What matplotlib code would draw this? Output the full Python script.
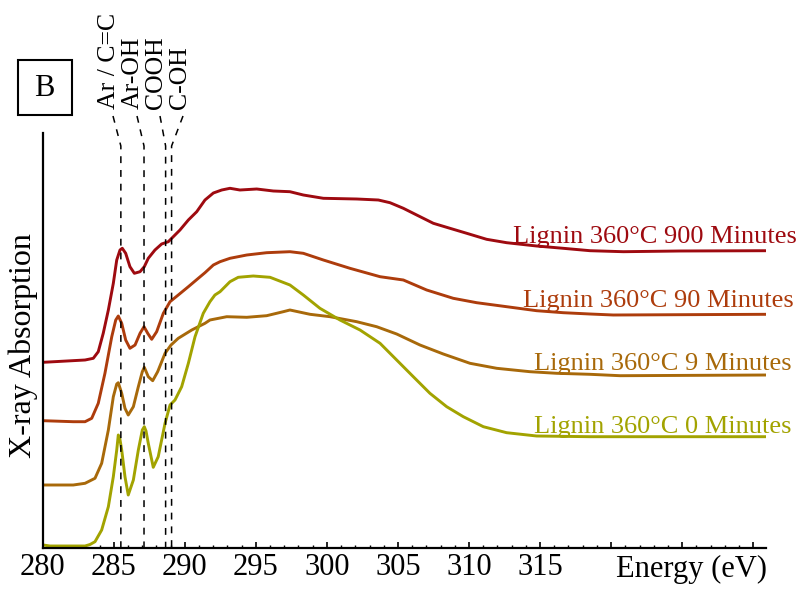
import matplotlib
matplotlib.use("Agg")
import matplotlib.pyplot as plt
from matplotlib.patches import Rectangle

plt.rcParams['font.family'] = ['Liberation Serif', 'DejaVu Serif']

# ---------------- data (energy in eV, absorption in a.u., offset-stacked) -------------
e_900 = [280.04, 282.98, 283.56, 283.91, 284.26, 284.62, 284.97, 285.21, 285.44, 285.60,
         285.84, 286.14, 286.45, 286.85, 287.15, 287.43, 287.90, 288.37, 288.84, 289.19,
         289.66, 290.25, 290.84, 291.42, 292.01, 292.60, 293.18, 293.88, 295.06, 296.23,
         297.40, 298.34, 299.75, 302.10, 303.62, 304.44, 305.38, 306.32, 307.49, 308.66,
         309.84, 311.24, 312.65, 314.76, 316.63, 318.51, 320.86, 324.85, 331.06]
a_900 = [1.857, 1.88, 1.897, 1.963, 2.147, 2.38, 2.647, 2.88, 2.98, 2.997,
         2.947, 2.813, 2.747, 2.763, 2.813, 2.897, 2.98, 3.04, 3.063, 3.113,
         3.18, 3.28, 3.363, 3.48, 3.55, 3.58, 3.597, 3.58, 3.59, 3.57,
         3.563, 3.53, 3.497, 3.49, 3.48, 3.453, 3.397, 3.33, 3.247, 3.197,
         3.147, 3.087, 3.053, 3.02, 2.997, 2.973, 2.963, 2.97, 2.973]

e_90 = [280.04, 282.15, 282.98, 283.45, 283.91, 284.38, 284.86, 285.14, 285.32, 285.56,
        285.84, 286.14, 286.50, 286.85, 287.13, 287.39, 287.67, 288.02, 288.49, 288.96,
        289.54, 290.25, 290.95, 291.42, 292.01, 292.48, 293.18, 294.36, 295.76, 297.40,
        298.34, 299.75, 301.62, 303.74, 305.38, 307.02, 308.89, 310.54, 312.65, 314.76,
        316.63, 318.51, 320.15, 331.06]
a_90 = [1.273, 1.263, 1.263, 1.297, 1.447, 1.747, 2.113, 2.28, 2.32, 2.247,
        2.08, 1.997, 2.03, 2.147, 2.213, 2.147, 2.087, 2.163, 2.347, 2.463,
        2.53, 2.613, 2.697, 2.753, 2.83, 2.863, 2.897, 2.93, 2.953, 2.963,
        2.947, 2.88, 2.797, 2.713, 2.68, 2.58, 2.497, 2.453, 2.413, 2.373,
        2.353, 2.34, 2.33, 2.337]

e_9 = [280.04, 282.15, 282.98, 283.68, 284.15, 284.62, 284.97, 285.21, 285.32, 285.56,
       285.79, 286.02, 286.38, 286.73, 287.01, 287.15, 287.43, 287.74, 288.09, 288.61,
       289.03, 289.54, 290.49, 291.42, 291.77, 292.95, 294.36, 295.76, 296.93, 297.40,
       298.81, 300.22, 302.10, 303.50, 304.91, 306.55, 308.19, 310.07, 311.95, 314.29,
       316.17, 318.51, 320.63, 331.06]
a_9 = [0.63, 0.63, 0.647, 0.697, 0.847, 1.18, 1.513, 1.64, 1.653, 1.547,
       1.397, 1.33, 1.413, 1.613, 1.763, 1.807, 1.713, 1.673, 1.763, 1.947,
       2.03, 2.097, 2.18, 2.247, 2.28, 2.313, 2.307, 2.323, 2.363, 2.38,
       2.337, 2.313, 2.263, 2.213, 2.14, 2.03, 1.94, 1.847, 1.797, 1.763,
       1.747, 1.737, 1.723, 1.73]

e_0 = [280.04, 280.51, 282.98, 283.33, 283.68, 284.15, 284.62, 284.97, 285.21, 285.32,
       285.42, 285.56, 285.79, 286.02, 286.38, 286.73, 287.01, 287.15, 287.27, 287.43,
       287.78, 288.13, 288.61, 288.96, 289.31, 289.78, 290.25, 290.72, 291.30, 291.77,
       292.12, 292.48, 293.18, 293.76, 294.82, 296.00, 297.40, 298.34, 299.51, 300.92,
       302.33, 303.74, 304.91, 306.08, 307.25, 308.43, 309.60, 311.01, 312.65, 314.76,
       318.51, 321.56, 331.06]
a_0 = [0.03, 0.02, 0.02, 0.035, 0.063, 0.18, 0.413, 0.713, 0.98, 1.13,
       1.10, 0.98, 0.713, 0.53, 0.68, 0.98, 1.18, 1.213, 1.17, 1.047,
       0.807, 0.913, 1.247, 1.43, 1.48, 1.613, 1.847, 2.113, 2.347, 2.463,
       2.53, 2.563, 2.663, 2.707, 2.72, 2.707, 2.63, 2.53, 2.397, 2.28,
       2.18, 2.047, 1.88, 1.713, 1.547, 1.413, 1.313, 1.213, 1.153, 1.12,
       1.113, 1.113, 1.113]

series_labels = ["Lignin 360°C 900 Minutes", "Lignin 360°C 90 Minutes",
                 "Lignin 360°C 9 Minutes", "Lignin 360°C 0 Minutes"]

peak_names = ["Ar / C=C", "Ar-OH", "COOH", "C-OH"]
peak_energies = [285.5, 287.13, 288.65, 289.07]

x_major = [280, 285, 290, 295, 300, 305, 310, 315, 320, 325, 330]
x_labels = ["280", "285", "290", "295", "300", "305", "310", "315", "", "", ""]

# ---------------- styling ----------------
colors = ["#9E0A10", "#AD3C0C", "#A8690A", "#A2A300"]
label_x_px = [797, 794, 792, 792]
label_base_px = [243.5, 307, 370, 432.5]
peak_label_px = [109, 133, 156.5, 180]
peak_top_px = [113, 137, 160, 183]

W, H = 804, 593
fig = plt.figure(figsize=(W / 100, H / 100), dpi=100)
ax = fig.add_axes([42.7 / W, 1 - 548 / H, (765.7 - 42.7) / W, (548 - 133) / H])

xmin, xmax = 280, 330.88
ymin, ymax = 0, 4.15
ax.set_xlim(xmin, xmax)
ax.set_ylim(ymin, ymax)

def px2e(px):
    return xmin + (px - 42.7) / (765.7 - 42.7) * (xmax - xmin)

def py2a(py):
    return (548 - py) / (548 - 133) * (ymax - ymin)

for e, a, c in zip([e_900, e_90, e_9, e_0], [a_900, a_90, a_9, a_0], colors):
    ax.plot(e, a, color=c, lw=2.1, solid_joinstyle='round', solid_capstyle='round')

# peak guide lines
for pe, lab_px, top_px, name in zip(peak_energies, peak_label_px, peak_top_px, peak_names):
    ax.plot([px2e(top_px), pe, pe], [py2a(116), py2a(146), 0], color='black', lw=1.1,
            linestyle=(0, (4.5, 4.5)), clip_on=False)
    ax.text(px2e(lab_px), py2a(109), name, rotation=90, ha='center', va='bottom',
            fontsize=18.5, clip_on=False)

# spines and ticks
for s in ['top', 'right']:
    ax.spines[s].set_visible(False)
for s in ['left', 'bottom']:
    ax.spines[s].set_linewidth(1.6)
ax.set_yticks([])
ax.set_xticks(x_major)
ax.set_xticklabels(x_labels)
ax.set_xticks(list(range(280, 331)), minor=True)
ax.tick_params(axis='x', which='major', direction='in', length=4.5, width=1.2,
               labelsize=22, pad=3.5)
ax.tick_params(axis='x', which='minor', direction='in', length=2.5, width=1.0)

ax.annotate("Energy (eV)", xy=(px2e(691.5), 0), xycoords=('data', 'axes fraction'),
            xytext=(0, -4.8), textcoords='offset points', ha='center', va='top',
            fontsize=22, annotation_clip=False)

fig.text(23 / W, 1 - 346 / H, "X-ray Absorption", rotation=90, ha='center', va='center',
         fontsize=23)

# series labels
for lab, c, xp, yp in zip(series_labels, colors, label_x_px, label_base_px):
    fig.text(xp / W, 1 - yp / H, lab, color=c, ha='right', va='baseline', fontsize=19)

# panel box "B"
fig.patches.append(Rectangle((17.5 / W, 1 - 115 / H), 54.5 / W, 55 / H, fill=False,
                             lw=1.5, edgecolor='black', transform=fig.transFigure))
fig.text(44.5 / W, 1 - 88 / H, "B", ha='center', va='center', fontsize=22)

fig.savefig("out.png", dpi=100)
